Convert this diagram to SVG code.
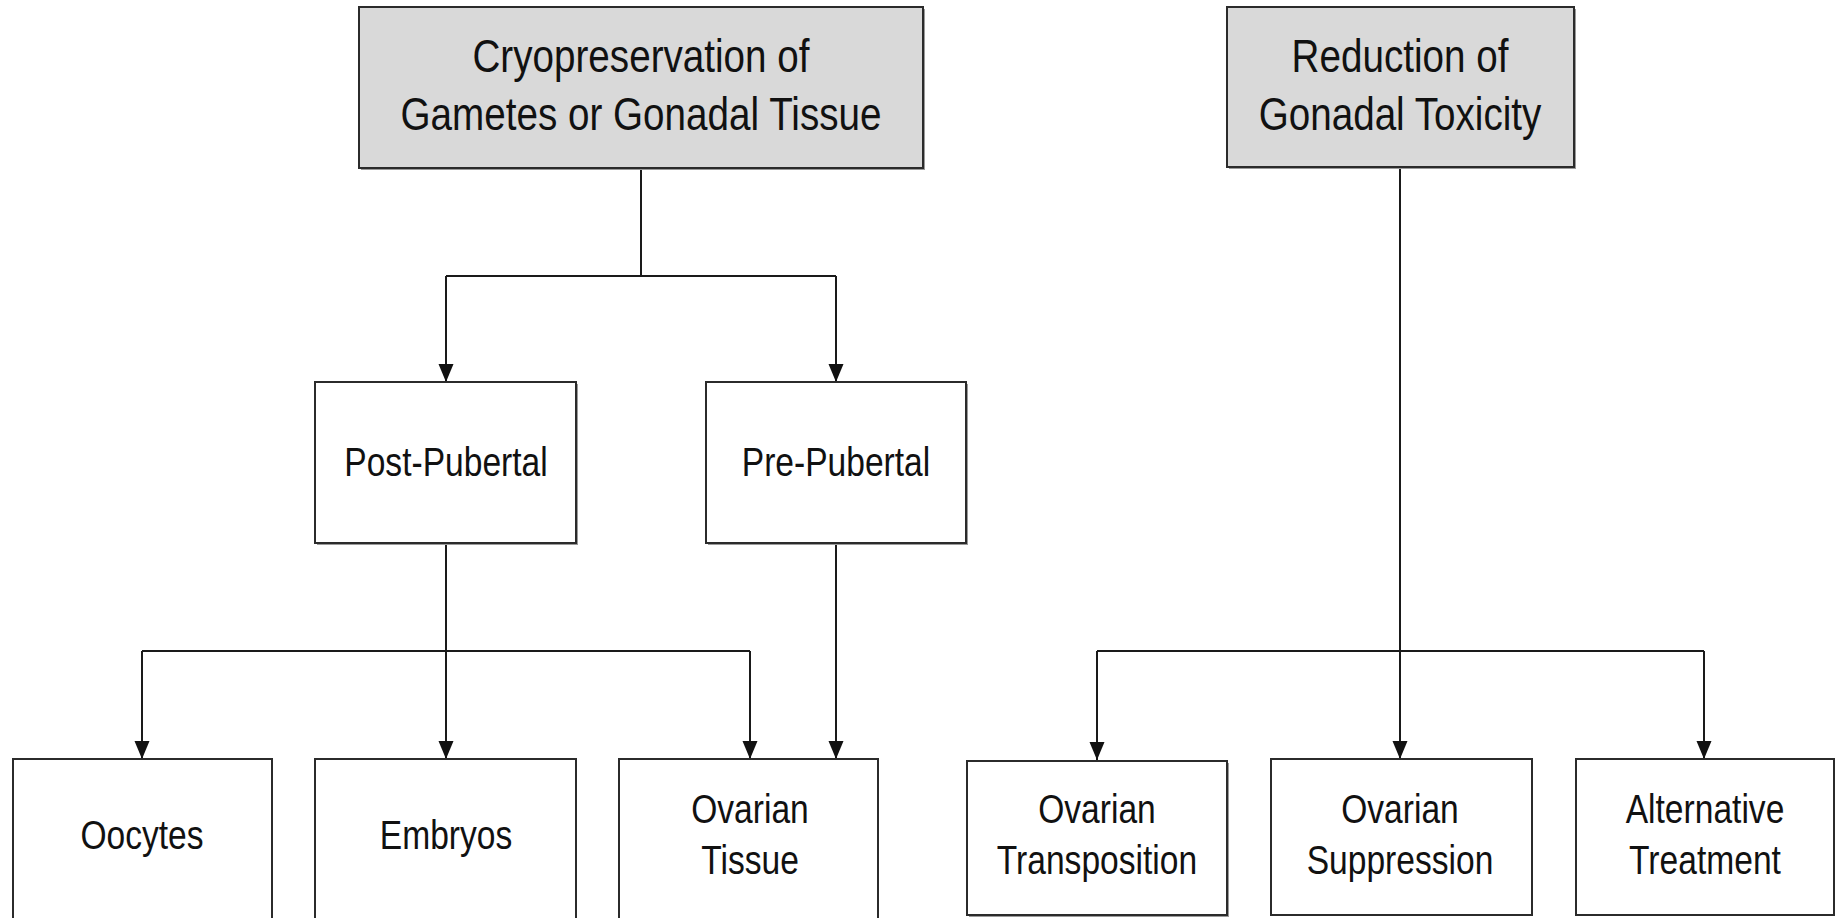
<svg xmlns="http://www.w3.org/2000/svg" width="1839" height="918" viewBox="0 0 1839 918">
<style>
.bg{fill:#ffffff}
.box{fill:#ffffff;stroke:#2b2b2b;stroke-width:2}
.head{fill:#d9d9d9;stroke:#2b2b2b;stroke-width:2}
.sh{fill:#9a9a9a;stroke:none}
.t{font-family:"Liberation Sans",Arial,sans-serif;fill:#111;text-anchor:middle}
.big{font-size:46px}
.sm{font-size:40px}
.con{fill:none;stroke:#1a1a1a;stroke-width:2}
</style>
<defs>
<marker id="arrD" markerWidth="15" markerHeight="18" refX="7.5" refY="18" orient="0" markerUnits="userSpaceOnUse" viewBox="0 0 15 18" overflow="visible">
<path d="M0,0 L15,0 L7.5,18 Z" fill="#111"/>
</marker>
</defs>
<rect class="bg" x="0" y="0" width="1839" height="918"/>

<g id="connectors">
<path class="con" d="M641,168 V276 M446,276 H836"/>
<path class="con" d="M446,276 V382" marker-end="url(#arrD)"/>
<path class="con" d="M836,276 V382" marker-end="url(#arrD)"/>
<path class="con" d="M446,543 V651 M142,651 H750"/>
<path class="con" d="M142,651 V759" marker-end="url(#arrD)"/>
<path class="con" d="M446,651 V759" marker-end="url(#arrD)"/>
<path class="con" d="M750,651 V759" marker-end="url(#arrD)"/>
<path class="con" d="M836,543 V759" marker-end="url(#arrD)"/>
<path class="con" d="M1400,168 V651 M1097,651 H1704"/>
<path class="con" d="M1097,651 V760" marker-end="url(#arrD)"/>
<path class="con" d="M1400,651 V759" marker-end="url(#arrD)"/>
<path class="con" d="M1704,651 V759" marker-end="url(#arrD)"/>
</g>

<g id="node-cryo">
<rect class="sh" x="361" y="9" width="564" height="161"/>
<rect class="head" x="359" y="7" width="564" height="161"/>
<text class="t big" transform="translate(641,72) scale(0.84,1)">Cryopreservation of</text>
<text class="t big" transform="translate(641,130) scale(0.84,1)">Gametes or Gonadal Tissue</text>
</g>
<g id="node-reduction">
<rect class="sh" x="1229" y="9" width="347" height="160"/>
<rect class="head" x="1227" y="7" width="347" height="160"/>
<text class="t big" transform="translate(1400,72) scale(0.84,1)">Reduction of</text>
<text class="t big" transform="translate(1400,130) scale(0.84,1)">Gonadal Toxicity</text>
</g>
<g id="node-post">
<rect class="sh" x="317" y="384" width="261" height="161"/>
<rect class="box" x="315" y="382" width="261" height="161"/>
<text class="t sm" transform="translate(446,476) scale(0.84,1)">Post-Pubertal</text>
</g>
<g id="node-pre">
<rect class="sh" x="708" y="384" width="260" height="161"/>
<rect class="box" x="706" y="382" width="260" height="161"/>
<text class="t sm" transform="translate(836,476) scale(0.84,1)">Pre-Pubertal</text>
</g>
<g id="node-oocytes">
<rect class="box" x="13" y="759" width="259" height="170"/>
<text class="t sm" transform="translate(142,849) scale(0.84,1)">Oocytes</text>
</g>
<g id="node-embryos">
<rect class="box" x="315" y="759" width="261" height="170"/>
<text class="t sm" transform="translate(446,849) scale(0.84,1)">Embryos</text>
</g>
<g id="node-tissue">
<rect class="box" x="619" y="759" width="259" height="170"/>
<text class="t sm" transform="translate(750,823) scale(0.84,1)">Ovarian</text>
<text class="t sm" transform="translate(750,874) scale(0.84,1)">Tissue</text>
</g>
<g id="node-transposition">
<rect class="sh" x="969" y="763" width="260" height="154"/>
<rect class="box" x="967" y="761" width="260" height="154"/>
<text class="t sm" transform="translate(1097,823) scale(0.84,1)">Ovarian</text>
<text class="t sm" transform="translate(1097,874) scale(0.84,1)">Transposition</text>
</g>
<g id="node-suppression">
<rect class="box" x="1271" y="759" width="261" height="156"/>
<text class="t sm" transform="translate(1400,823) scale(0.84,1)">Ovarian</text>
<text class="t sm" transform="translate(1400,874) scale(0.84,1)">Suppression</text>
</g>
<g id="node-alternative">
<rect class="box" x="1576" y="759" width="258" height="156"/>
<text class="t sm" transform="translate(1705,823) scale(0.84,1)">Alternative</text>
<text class="t sm" transform="translate(1705,874) scale(0.84,1)">Treatment</text>
</g>
</svg>
